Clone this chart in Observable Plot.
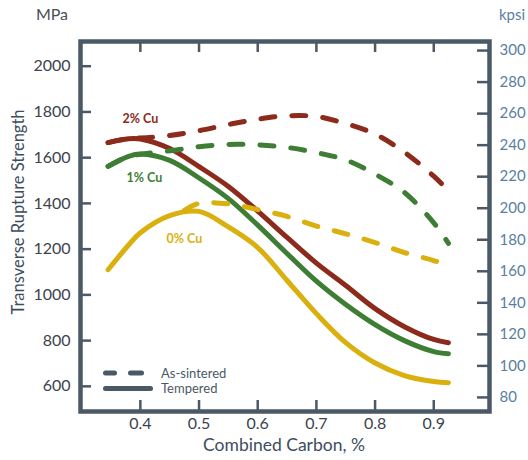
<!DOCTYPE html>
<html>
<head>
<meta charset="utf-8">
<script src="https://cdn.jsdelivr.net/npm/d3@7"></script>
<script src="https://cdn.jsdelivr.net/npm/@observablehq/plot@0.6"></script>
<style>
  html, body { margin: 0; padding: 0; background: #ffffff; }
  #chart { width: 528px; height: 460px; }
</style>
</head>
<body>
<div id="chart"></div>
<script>
// ---- Data ----
const carbon = [0.345, 0.38, 0.4, 0.45, 0.5, 0.55, 0.6, 0.65, 0.7, 0.75, 0.8, 0.85, 0.9, 0.925];
const cu2Tempered = [1666, 1683, 1682, 1640, 1561, 1474, 1366, 1251, 1139, 1041, 940, 861, 805, 791];
const cu1Tempered = [1562, 1606, 1616, 1588, 1511, 1421, 1305, 1181, 1060, 958, 870, 800, 752, 743];
const cu0Tempered = [1110, 1218, 1272, 1347, 1365, 1297, 1207, 1063, 918, 791, 702, 647, 621, 616];
const cu2Sintered = [1666, 1684, 1686, 1697, 1718, 1745, 1768, 1783, 1780, 1749, 1703, 1624, 1519, 1455];
const cu1Sintered = [1562, 1606, 1615, 1630, 1648, 1658, 1656, 1645, 1622, 1590, 1528, 1448, 1315, 1225];
const carbon0Sintered = [0.475, 0.5, 0.55, 0.6, 0.65, 0.7, 0.75, 0.8, 0.85, 0.9, 0.925];
const cu0Sintered = [1370, 1400, 1398, 1373, 1343, 1301, 1267, 1229, 1185, 1150, 1128];

const mpaTicks = [600, 800, 1000, 1200, 1400, 1600, 1800, 2000];
const kpsiTicks = [80, 100, 120, 140, 160, 180, 200, 220, 240, 260, 280, 300];
const carbonTicks = [0.4, 0.5, 0.6, 0.7, 0.8, 0.9];
const MPA_PER_KPSI = 6.894757;

const copperLevels = ["2% Cu", "1% Cu", "0% Cu"];
const copperColors = ["#8c2a1b", "#3e7d34", "#d9b00e"];

const curveLabels = [
  {label: "2% Cu", c: 0.4, v: 1771},
  {label: "1% Cu", c: 0.407, v: 1509},
  {label: "0% Cu", c: 0.475, v: 1246}
];

// ---- Build table ----
const series = [
  {cu: "2% Cu", cond: "Tempered", xs: carbon, ys: cu2Tempered},
  {cu: "1% Cu", cond: "Tempered", xs: carbon, ys: cu1Tempered},
  {cu: "0% Cu", cond: "Tempered", xs: carbon, ys: cu0Tempered},
  {cu: "2% Cu", cond: "As-sintered", xs: carbon, ys: cu2Sintered},
  {cu: "1% Cu", cond: "As-sintered", xs: carbon, ys: cu1Sintered},
  {cu: "0% Cu", cond: "As-sintered", xs: carbon0Sintered, ys: cu0Sintered}
];
const rows = series.flatMap(s => s.xs.map((c, i) => ({c, v: s.ys[i], cu: s.cu, cond: s.cond, key: s.cu + "|" + s.cond})));

const W = 528, H = 460;
const mL = 80, mR = 39, mT = 41, mB = 49;
const fw = W - mL - mR, fh = H - mT - mB;
const tickLen = 11;

const frameColor = "#4b5966";
const leftText = "#3b434d";
const rightText = "#5a7ea3";
const titleColor = "#3e4c5e";
const FONT = "Lato, 'Open Sans', sans-serif";
const kpsiAsMpa = kpsiTicks.map(k => k * MPA_PER_KPSI);

const plot = Plot.plot({
  width: W,
  height: H,
  marginLeft: mL,
  marginRight: mR,
  marginTop: mT,
  marginBottom: mB,
  style: {fontFamily: FONT, background: "#ffffff"},
  x: {domain: [0.298, 0.995], axis: null},
  y: {domain: [490, 2108], axis: null},
  color: {domain: copperLevels, range: copperColors},
  marks: [
    Plot.line(rows.filter(d => d.cond === "Tempered"), {
      x: "c", y: "v", z: "key", stroke: "cu", strokeWidth: 5,
      curve: "catmull-rom", strokeLinecap: "round", strokeLinejoin: "round"
    }),
    Plot.line(rows.filter(d => d.cond === "As-sintered"), {
      x: "c", y: "v", z: "key", stroke: "cu", strokeWidth: 5,
      curve: "catmull-rom", strokeLinecap: "round", strokeDasharray: "14,17"
    }),
    Plot.text(curveLabels, {
      x: "c", y: "v", text: "label", fill: d => d.label,
      fontSize: 12.5, fontWeight: "bold"
    }),
    // inward ticks
    Plot.tickY(mpaTicks, {y: d => d, insetRight: fw - tickLen, stroke: frameColor, strokeWidth: 2.5}),
    Plot.tickY(kpsiAsMpa, {y: d => d, insetLeft: fw - tickLen - 1, stroke: frameColor, strokeWidth: 2.5}),
    Plot.tickX(carbonTicks, {x: d => d, insetBottom: fh - tickLen, stroke: frameColor, strokeWidth: 2.5}),
    Plot.tickX(carbonTicks, {x: d => d, insetTop: fh - tickLen, stroke: frameColor, strokeWidth: 2.5}),
    // tick labels
    Plot.axisY(mpaTicks, {anchor: "left", tickSize: 0, tickPadding: 10, fontSize: 16, fill: leftText, label: null, tickFormat: d => String(d)}),
    Plot.axisY(kpsiAsMpa, {
      anchor: "right", tickSize: 0, tickPadding: 10, fontSize: 15, fill: rightText, label: null,
      tickFormat: v => String(Math.round(v / MPA_PER_KPSI))
    }),
    Plot.axisX(carbonTicks, {anchor: "bottom", tickSize: 0, tickPadding: 6, fontSize: 16, fill: leftText, label: null, tickFormat: d3.format(".1f")}),
    Plot.frame({stroke: frameColor, strokeWidth: 4.5})
  ]
});

document.getElementById("chart").appendChild(plot);

const svg = d3.select(plot);

// ---- Titles ----
const tg = svg.append("g").attr("font-family", FONT);
tg.append("text").attr("x", 52).attr("y", 14).attr("dy", "0.35em").attr("text-anchor", "middle")
  .attr("font-size", 16).attr("fill", "#4a4e56").text("MPa");
tg.append("text").attr("x", 499).attr("y", 15).attr("dy", "0.35em").attr("text-anchor", "start")
  .attr("font-size", 15).attr("fill", rightText).text("kpsi");
tg.append("text").attr("transform", "translate(18,212) rotate(-90)").attr("dy", "0.35em").attr("text-anchor", "middle")
  .attr("font-size", 16.5).attr("fill", titleColor).text("Transverse Rupture Strength");
tg.append("text").attr("x", 284).attr("y", 445).attr("dy", "0.35em").attr("text-anchor", "middle")
  .attr("font-size", 17.5).attr("fill", titleColor).text("Combined Carbon, %");

// ---- Legend (line style) ----
const lg = svg.append("g").attr("stroke", frameColor).attr("stroke-width", 5).attr("stroke-linecap", "round");
lg.append("line").attr("x1", 105.5).attr("x2", 114.5).attr("y1", 373).attr("y2", 373);
lg.append("line").attr("x1", 130.5).attr("x2", 141.5).attr("y1", 373).attr("y2", 373);
lg.append("line").attr("x1", 105.5).attr("x2", 150.5).attr("y1", 388.5).attr("y2", 388.5);
const lt = svg.append("g").attr("fill", frameColor).attr("font-family", FONT).attr("font-size", 13).attr("text-anchor", "start");
lt.append("text").attr("x", 161).attr("y", 373).attr("dy", "0.35em").text("As-sintered");
lt.append("text").attr("x", 161).attr("y", 388.5).attr("dy", "0.35em").text("Tempered");
</script>
</body>
</html>
